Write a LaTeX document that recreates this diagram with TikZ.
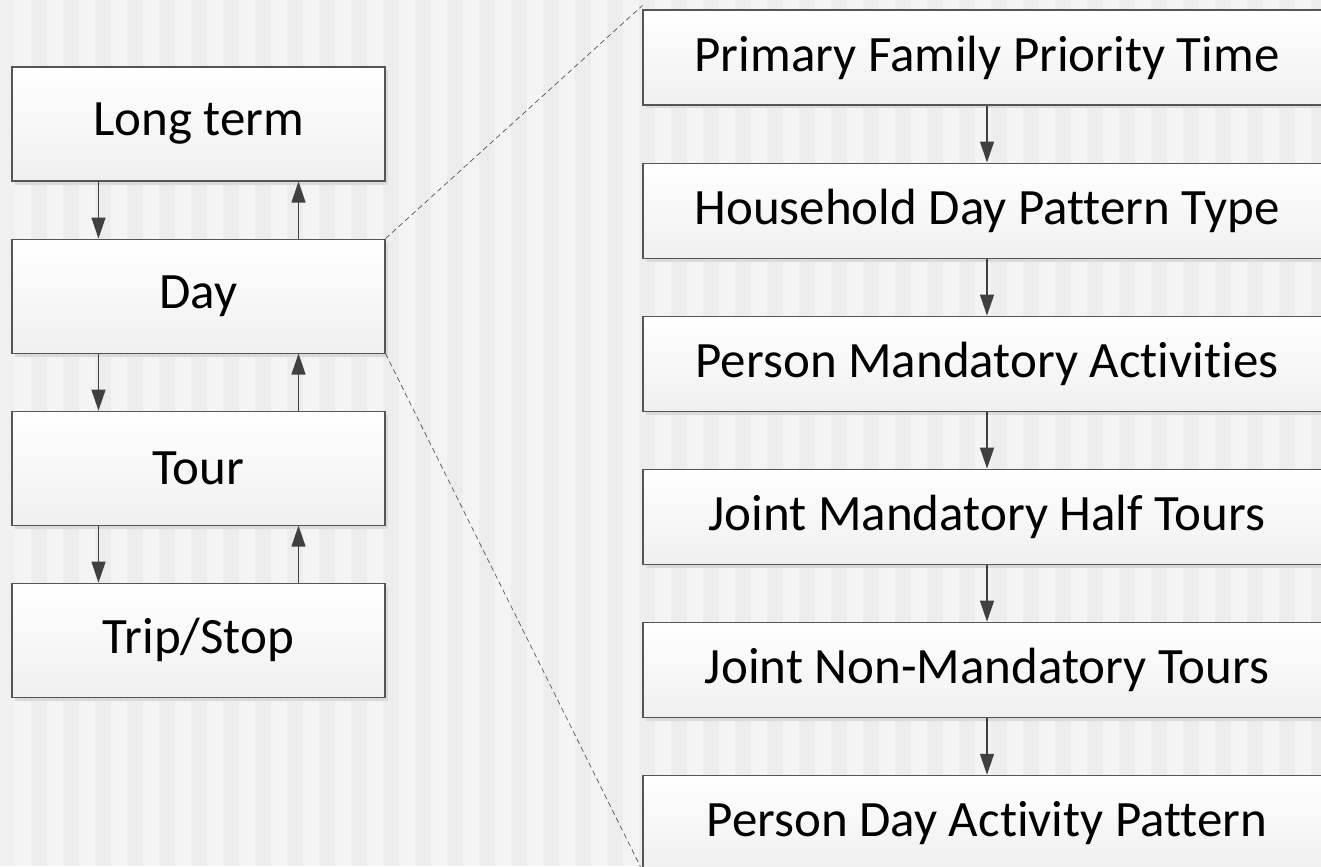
\documentclass[tikz,border=0pt]{standalone}
\usepackage{fontspec}
\setmainfont{Carlito}[Ligatures=NoCommon]
\usepackage{tikz}
\usetikzlibrary{arrows.meta, positioning, shadows}
\definecolor{bgmid}{HTML}{F0F0F0}
\definecolor{bglight}{HTML}{F4F4F4}
\definecolor{bgdark}{HTML}{EDEDED}
\definecolor{edge}{HTML}{555555}
\definecolor{arrowgray}{HTML}{404040}
\tikzset{
    levelbox/.style={rectangle, draw=edge, line width=0.6pt, top color=white, bottom color=black!6, minimum width=7.46cm, minimum height=2.28cm, align=center, font=\fontsize{29}{35}\selectfont, drop shadow={shadow xshift=0.06cm, shadow yshift=-0.07cm, fill=black!14, opacity=1}},
    stepbox/.style={levelbox, minimum width=13.76cm, minimum height=1.9cm},
    arrow/.style={-{Triangle[length=0.42cm, width=0.28cm]}, line width=0.75pt, draw=arrowgray},
    zoomline/.style={dashed, dash pattern=on 3pt off 2pt, line width=0.4pt, draw=edge}
}

\begin{document}
\begin{tikzpicture}
    % background
    \useasboundingbox (0,0) rectangle (26.42,-17.32);
    \clip (0,0) rectangle (26.42,-17.32);
    \fill[bgmid] (0,0) rectangle (26.42,-17.32);
    \fill[bglight] (0.3,0) rectangle (26.42,-17.32);
    \foreach \i in {0,...,40}
        \fill[bgdark] ({0.62+0.64*\i},0) rectangle ++(0.32,-17.32);

    % levels
    \node[levelbox] (long) at (3.97,-2.48) {Long term};
    \node[levelbox, below=1.14cm of long] (day) {Day};
    \node[levelbox, below=1.14cm of day] (tour) {Tour};
    \node[levelbox, below=1.14cm of tour] (trip) {Trip/Stop};

    % day steps
    \node[stepbox] (pfpt) at (19.74,-1.15) {Primary Family Priority Time};
    \node[stepbox, below=1.14cm of pfpt] (hdpt) {Household Day Pattern Type};
    \node[stepbox, below=1.14cm of hdpt] (pma) {Person Mandatory Activities};
    \node[stepbox, below=1.14cm of pma] (jmht) {Joint Mandatory Half Tours};
    \node[stepbox, below=1.14cm of jmht] (jnmt) {Joint Non-Mandatory Tours};
    \node[stepbox, below=1.14cm of jnmt] (pdap) {Person Day Activity Pattern};

    % up and down between levels
    \draw[arrow] ([xshift=-2cm]long.south) -- ([xshift=-2cm]day.north);
    \draw[arrow] ([xshift=2cm]day.north) -- ([xshift=2cm]long.south);
    \draw[arrow] ([xshift=-2cm]day.south) -- ([xshift=-2cm]tour.north);
    \draw[arrow] ([xshift=2cm]tour.north) -- ([xshift=2cm]day.south);
    \draw[arrow] ([xshift=-2cm]tour.south) -- ([xshift=-2cm]trip.north);
    \draw[arrow] ([xshift=2cm]trip.north) -- ([xshift=2cm]tour.south);

    % step chain
    \draw[arrow] (pfpt) -- (hdpt);
    \draw[arrow] (hdpt) -- (pma);
    \draw[arrow] (pma) -- (jmht);
    \draw[arrow] (jmht) -- (jnmt);
    \draw[arrow] (jnmt) -- (pdap);

    % zoom lines
    \coordinate[above=0.08cm of pfpt.north west] (zoomtop);
    \draw[zoomline] (day.north east) -- (zoomtop);
    \draw[zoomline] (day.south east) -- (pdap.south west);
\end{tikzpicture}
\end{document}
